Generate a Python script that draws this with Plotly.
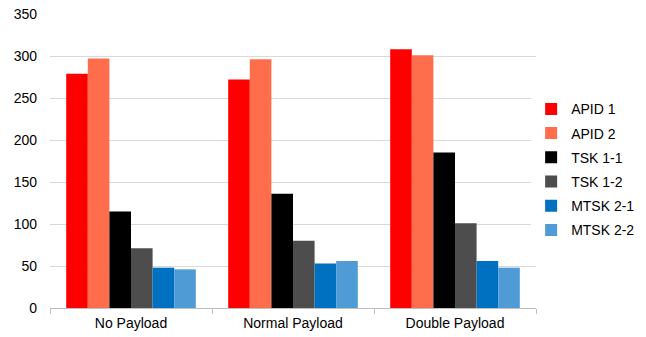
import plotly.graph_objects as go

categories = ["No Payload", "Normal Payload", "Double Payload"]

series_names = ["APID 1", "APID 2", "TSK 1-1", "TSK 1-2", "MTSK 2-1", "MTSK 2-2"]
apid_1 = [279, 272, 308]
apid_2 = [297, 296, 301]
tsk_1_1 = [115, 136, 185]
tsk_1_2 = [71, 80, 101]
mtsk_2_1 = [48, 53, 56]
mtsk_2_2 = [46, 56, 48]
series_values = [apid_1, apid_2, tsk_1_1, tsk_1_2, mtsk_2_1, mtsk_2_2]

y_ticks = [0, 50, 100, 150, 200, 250, 300, 350]

colors = ["#FF0000", "#FF6E4C", "#000000", "#4D4D4D", "#0070C0", "#4E9BD5"]

fig = go.Figure()
for name, vals, col in zip(series_names, series_values, colors):
    fig.add_trace(go.Bar(
        name=name, x=categories, y=vals,
        marker=dict(color=col, line=dict(width=0)),
        legendgroup=name,
    ))

fig.update_layout(
    width=646, height=337,
    margin=dict(l=50, r=110, t=14, b=29, autoexpand=False),
    barmode="group",
    bargap=0.2,
    bargroupgap=0,
    plot_bgcolor="white",
    paper_bgcolor="white",
    font=dict(family="Liberation Sans, Arial, sans-serif", size=14, color="#000000"),
    legend=dict(
        x=0.99, xanchor="left", y=0.47, yanchor="middle",
        font=dict(size=14),
        tracegroupgap=3,
        itemwidth=30,
    ),
)

fig.update_xaxes(
    showline=True, linecolor="#BFBFBF", linewidth=1,
    ticks="outside", tickson="boundaries", ticklen=5, tickcolor="#BFBFBF",
    showgrid=False, ticklabelstandoff=2,
)
fig.update_yaxes(
    range=[0, 350], tickvals=y_ticks,
    showgrid=True, gridcolor="#D9D9D9", gridwidth=1,
    zeroline=False, showline=False, ticks="", ticklabelstandoff=12,
)

fig.write_html("out.html")
